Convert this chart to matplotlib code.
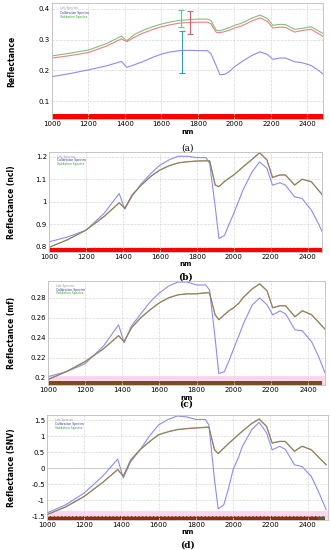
import numpy as np
import matplotlib
matplotlib.use("Agg")
import matplotlib.pyplot as plt

wl = [1000, 1100, 1200, 1300, 1380, 1410, 1450, 1500, 1550, 1600, 1650, 1700, 1750, 1800, 1850, 1870,
      1900, 1920, 1950, 1975, 2000, 2030, 2050, 2100, 2140, 2180, 2210, 2250, 2280, 2330, 2370, 2420, 2460, 2500]

# (a) raw reflectance
a_green = [0.247, 0.256, 0.266, 0.287, 0.311, 0.296, 0.316, 0.330, 0.341, 0.350, 0.357, 0.362, 0.364, 0.366, 0.366, 0.362,
           0.330, 0.328, 0.334, 0.339, 0.346, 0.351, 0.356, 0.370, 0.379, 0.368, 0.346, 0.349, 0.348, 0.333, 0.336, 0.341, 0.328, 0.314]
a_red = [0.240, 0.248, 0.258, 0.279, 0.302, 0.293, 0.307, 0.321, 0.332, 0.341, 0.348, 0.353, 0.355, 0.356, 0.356, 0.352,
         0.323, 0.322, 0.326, 0.331, 0.337, 0.342, 0.347, 0.361, 0.370, 0.359, 0.337, 0.340, 0.339, 0.324, 0.329, 0.333, 0.319, 0.305]
a_blue = [0.180, 0.190, 0.202, 0.215, 0.229, 0.210, 0.218, 0.229, 0.242, 0.253, 0.260, 0.264, 0.265, 0.264, 0.264, 0.255,
          0.215, 0.186, 0.188, 0.198, 0.212, 0.224, 0.232, 0.250, 0.260, 0.252, 0.236, 0.240, 0.240, 0.228, 0.225, 0.216, 0.200, 0.182]
err_x = [1705, 1714, 1755]
err_y = [0.368, 0.260, 0.355]
err_h = [0.027, 0.067, 0.036]
err_c = ["#7fbf7f", "#3a9ab0", "#d0606a"]

# (b) ncl
b_blue = [0.821, 0.843, 0.873, 0.950, 1.037, 0.967, 1.025, 1.081, 1.125, 1.163, 1.187, 1.203, 1.203, 1.197, 1.197, 1.170,
          0.977, 0.836, 0.850, 0.900, 0.948, 1.010, 1.052, 1.134, 1.178, 1.149, 1.074, 1.085, 1.074, 1.022, 1.015, 0.963, 0.900, 0.829]
b_brown = [0.796, 0.830, 0.873, 0.935, 0.995, 0.970, 1.030, 1.074, 1.112, 1.141, 1.160, 1.173, 1.178, 1.181, 1.182, 1.182,
           1.074, 1.067, 1.090, 1.105, 1.119, 1.140, 1.155, 1.189, 1.218, 1.186, 1.108, 1.119, 1.119, 1.074, 1.100, 1.089, 1.050, 1.010]

# (c) mf
c_blue = [0.201, 0.206, 0.214, 0.232, 0.253, 0.235, 0.252, 0.264, 0.276, 0.285, 0.292, 0.296, 0.296, 0.293, 0.293, 0.288,
          0.240, 0.204, 0.206, 0.217, 0.229, 0.243, 0.253, 0.273, 0.280, 0.273, 0.263, 0.267, 0.264, 0.248, 0.247, 0.236, 0.220, 0.201]
c_brown = [0.198, 0.206, 0.216, 0.229, 0.242, 0.236, 0.250, 0.260, 0.268, 0.275, 0.280, 0.283, 0.284, 0.284, 0.285, 0.285,
           0.263, 0.258, 0.263, 0.267, 0.270, 0.275, 0.280, 0.289, 0.294, 0.287, 0.270, 0.272, 0.272, 0.261, 0.267, 0.263, 0.255, 0.247]

# (d) SNV
d_blue = [-1.406, -1.15, -0.78, -0.25, 0.28, -0.31, 0.20, 0.57, 1.00, 1.35, 1.52, 1.63, 1.60, 1.52, 1.52, 1.35,
          -0.36, -1.28, -1.15, -0.65, -0.05, 0.35, 0.68, 1.20, 1.43, 1.10, 0.57, 0.68, 0.59, 0.10, 0.05, -0.26, -0.75, -1.30]
d_brown = [-1.46, -1.22, -0.89, -0.45, -0.05, -0.26, 0.25, 0.57, 0.82, 1.04, 1.13, 1.20, 1.23, 1.25, 1.27, 1.28,
           0.57, 0.45, 0.62, 0.76, 0.89, 1.05, 1.15, 1.39, 1.53, 1.30, 0.78, 0.83, 0.83, 0.52, 0.68, 0.57, 0.33, 0.10]

legend_names = ["Lab Spectra", "Calibration Spectra", "Validation Spectra"]
ylabels = ["Reflectance", "Reflectance (ncl)", "Reflectance (mf)", "Reflectance (SNV)"]
tags = ["(a)", "(b)", "(c)", "(d)"]

BLUE = "#8c8cf0"
RED = "#ee8080"
GREEN = "#80c080"

W, H = 330, 550
fig = plt.figure(figsize=(3.3, 5.5), dpi=100)
# axes boxes in pixels: left, top, right, bottom
px_boxes = [(52, 3, 323, 119), (49, 152, 322, 252), (48, 281, 325, 385), (47, 415, 328, 520)]
tag_px = [148, 277, 404, 545]
ylims = [(0.043, 0.418), (0.776, 1.222), (0.1926, 0.297), (-1.625, 1.66)]
yticks = [[0.1, 0.2, 0.3, 0.4], [0.8, 0.9, 1.0, 1.1, 1.2],
          [0.2, 0.22, 0.24, 0.26, 0.28], [-1.5, -1, -0.5, 0, 0.5, 1, 1.5]]
yticklabels = [["0.1", "0.2", "0.3", "0.4"], ["0.8", "0.9", "1", "1.1", "1.2"],
               ["0.2", "0.22", "0.24", "0.26", "0.28"],
               ["-1.5", "-1", "-0.5", "0", "0.5", "1", "1.5"]]
xmax = [2485, 2478, 2492, 2510]

series = [(a_blue, a_red, a_green), (b_blue, b_brown, b_brown),
          (c_blue, c_brown, c_brown), (d_blue, d_brown, d_brown)]

for i in range(4):
    l, t, r, b = px_boxes[i]
    ax = fig.add_axes([l / W, 1 - b / H, (r - l) / W, (b - t) / H])
    lo, hi = ylims[i]
    ax.set_xlim(1000, xmax[i])
    ax.set_ylim(lo, hi)
    ax.grid(True, color="#d8d8d8", linestyle="--", linewidth=0.5)
    if i == 3:
        ax.axhline(0, color="#c8c8c8", linewidth=0.6)
    blue, red, green = series[i]
    ax.plot(wl, blue, color=BLUE, lw=0.8)
    if i == 0:
        ax.plot(wl, green, color=GREEN, lw=0.8)
        ax.plot(wl, red, color=RED, lw=0.8)
        for x, y, h, c in zip(err_x, err_y, err_h, err_c):
            ax.errorbar(x, y, yerr=h, color=c, lw=0.8, capsize=2, capthick=0.8)
    else:
        ax.plot(wl, np.array(green) + (hi - lo) * 0.003, color=GREEN, lw=0.8)
        ax.plot(wl, red, color="#a0705a", lw=0.8, alpha=0.9)
    # coloured band at the bottom of each panel
    span = hi - lo
    if i < 2:
        ax.axhspan(lo, lo + span * 0.04, color="#ff0000", lw=0)
    else:
        ax.axhspan(lo, lo + span * 0.09, color="#ffd6f0", lw=0)
        band_c = "#7a4e1c" if i == 2 else "#8c2e12"
        ax.axhspan(lo, lo + span * 0.035, xmin=0.005, xmax=0.99, color=band_c, lw=0)
        if i == 3:
            ax.axhspan(lo, lo + span * 0.035, xmin=0.965, xmax=0.99, color="#5a5a2a", lw=0)
    ax.set_xticks(range(1000, 2500, 200))
    ax.set_yticks(yticks[i])
    ax.set_yticklabels(yticklabels[i])
    ax.tick_params(labelsize=5, length=0, pad=1.5)
    for s in ax.spines.values():
        s.set_color("#bdbdbd")
        s.set_linewidth(0.6)
    # tiny legend text
    for k, (name, c) in enumerate(zip(legend_names, ["#9a9a9a", "#3030c0", "#30a030"])):
        ax.text(0.03, 0.97 - k * 0.035, name, transform=ax.transAxes, fontsize=2.2,
                color=c, va="top")
    fig.text(12 / W, 1 - (t + b) / 2 / H, ylabels[i], rotation=90, fontsize=5.5,
             fontweight="bold", ha="center", va="center")
    fig.text((l + r) / 2 / W, 1 - (b + 9.5) / H, "nm", fontsize=5,
             fontweight="bold", ha="center", va="top")
    fig.text((l + r) / 2 / W, 1 - tag_px[i] / H, tags[i], fontsize=6.5,
             family="DejaVu Serif", fontweight="bold" if i > 0 else "normal",
             ha="center", va="center")

fig.savefig("out.png", dpi=100)
